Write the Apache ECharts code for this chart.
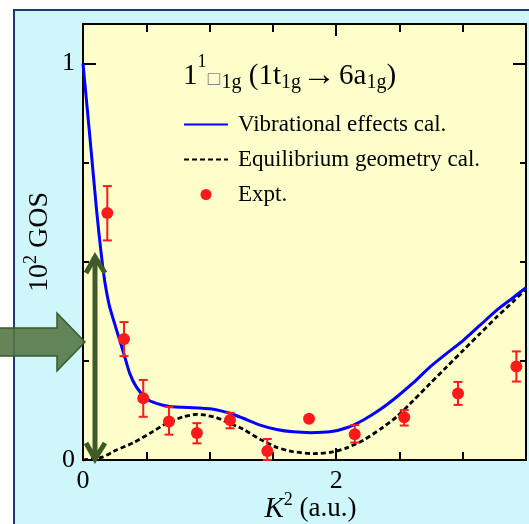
<!DOCTYPE html>
<html>
<head>
<meta charset="utf-8">
<script src="https://cdn.jsdelivr.net/npm/echarts@6/dist/echarts.min.js"></script>
<style>
html,body{margin:0;padding:0;background:#fff;}
#chart{width:529px;height:524px;}
</style>
</head>
<body>
<div id="chart"></div>
<script>
// Vibrational effects calculation (blue solid)  [K^2 (a.u.), 10^2 GOS]
const vibX = [0, 0.05, 0.105, 0.13, 0.155, 0.18, 0.21, 0.25, 0.29, 0.33, 0.37, 0.42, 0.50, 0.58, 0.685, 0.79, 0.92, 1.05, 1.16, 1.26, 1.40, 1.53, 1.66, 1.80, 1.95, 2.09, 2.215, 2.35, 2.478, 2.61, 2.742, 2.874, 3.005, 3.137, 3.269, 3.40, 3.5];
const vibY = [1.0, 0.83, 0.638, 0.56, 0.49, 0.435, 0.387, 0.344, 0.302, 0.260, 0.218, 0.185, 0.155, 0.143, 0.135, 0.133, 0.131, 0.127, 0.118, 0.106, 0.088, 0.077, 0.071, 0.069, 0.071, 0.082, 0.101, 0.128, 0.159, 0.195, 0.235, 0.269, 0.302, 0.340, 0.378, 0.410, 0.435];
// Equilibrium geometry calculation (black dashed)
const eqX = [0, 0.08, 0.158, 0.263, 0.395, 0.527, 0.658, 0.79, 0.895, 0.97, 1.053, 1.135, 1.264, 1.40, 1.53, 1.66, 1.82, 1.95, 2.08, 2.215, 2.35, 2.478, 2.61, 2.742, 2.874, 3.005, 3.137, 3.269, 3.40, 3.5];
const eqY = [0, 0.003, 0.008, 0.025, 0.043, 0.067, 0.092, 0.109, 0.115, 0.113, 0.107, 0.096, 0.078, 0.052, 0.032, 0.021, 0.016, 0.019, 0.030, 0.050, 0.078, 0.109, 0.150, 0.193, 0.235, 0.277, 0.319, 0.361, 0.400, 0.432];
// Experiment
const expX  = [0.192, 0.324, 0.476, 0.679, 0.900, 1.162, 1.456, 1.786, 2.147, 2.538, 2.963, 3.424];
const expY  = [0.623, 0.305, 0.156, 0.097, 0.068, 0.101, 0.023, 0.104, 0.065, 0.108, 0.168, 0.236];
const expLo = [0.554, 0.262, 0.109, 0.064, 0.042, 0.080, 0.000, null, 0.044, 0.087, 0.139, 0.198];
const expHi = [0.691, 0.348, 0.202, 0.134, 0.093, 0.119, 0.053, null, 0.088, 0.126, 0.197, 0.274];
// tick labels
const xTickLabels = [0, 2];
const yTickLabels = [0, 1];

const FONT = "'Liberation Serif', 'Times New Roman', serif";
const vibData = vibX.map((x, i) => [x, vibY[i]]);
const eqData = eqX.map((x, i) => [x, eqY[i]]);
const expData = expX.map((x, i) => [x, expY[i]]);
const errData = [];
expX.forEach((x, i) => { if (expLo[i] !== null) errData.push([x, expLo[i], expHi[i]]); });

const chart = echarts.init(document.getElementById('chart'), null, {renderer: 'canvas'});

function xAx(pos, interval, tickLen, labels, line) {
  return {
    type: 'value', min: 0, max: 3.5, interval: interval, position: pos,
    axisLine: {show: line, onZero: false, lineStyle: {color: '#000', width: 2}},
    axisTick: {show: true, inside: true, length: tickLen, lineStyle: {color: '#000', width: 2}},
    axisLabel: labels ? {show: true, margin: 8, color: '#000', fontSize: 26, fontFamily: FONT,
      formatter: v => xTickLabels.indexOf(Math.round(v * 1000) / 1000) >= 0 ? String(Math.round(v)) : ''} : {show: false},
    splitLine: {show: false}
  };
}
function yAx(pos, interval, tickLen, labels, line) {
  return {
    type: 'value', min: 0, max: 1.1, interval: interval, position: pos,
    axisLine: {show: line, onZero: false, lineStyle: {color: '#000', width: 2}},
    axisTick: {show: true, inside: true, length: tickLen, lineStyle: {color: '#000', width: 2}},
    axisLabel: labels ? {show: true, margin: 8, color: '#000', fontSize: 26, fontFamily: FONT, padding: [13, 0, 0, 0],
      formatter: v => yTickLabels.indexOf(Math.round(v * 1000) / 1000) >= 0 ? String(Math.round(v)) : ''} : {show: false},
    splitLine: {show: false}
  };
}

const xMain = xAx('bottom', 2, 12, true, true);
xMain.name = '{i|K}{s|2}{n| (a.u.)}';
xMain.nameLocation = 'middle';
xMain.nameGap = 31;
xMain.nameMoveOverlap = false;
xMain.nameTextStyle = {
  color: '#000', fontFamily: FONT, padding: [0, 0, 0, 12],
  rich: {
    i: {fontSize: 29, fontStyle: 'italic', fontFamily: FONT, color: '#000'},
    s: {fontSize: 18, fontFamily: FONT, color: '#000', padding: [0, 0, 18, 0]},
    n: {fontSize: 27, fontFamily: FONT, color: '#000'}
  }
};
const yMain = yAx('left', 1, 13, true, true);
yMain.name = '{n|10}{s|2}{n| GOS}';
yMain.nameLocation = 'middle';
yMain.nameGap = 25;
yMain.nameRotate = 90;
yMain.nameMoveOverlap = false;
yMain.nameTextStyle = {
  color: '#000', fontFamily: FONT,
  rich: {
    s: {fontSize: 18, fontFamily: FONT, color: '#000', padding: [0, 0, 18, 0]},
    n: {fontSize: 28, fontFamily: FONT, color: '#000'}
  }
};

const option = {
  backgroundColor: '#ffffff',
  animation: false,
  title: {
    left: 178, top: 48,
    text: '{b|1}{sp|1}{bx|□}{sb|1g}{b| (1t}{sb|1g}{ar|→}{b|6a}{sb|1g}{b|)}',
    textStyle: {
      fontFamily: FONT, color: '#000', fontWeight: 'normal',
      rich: {
        b: {fontSize: 29, fontFamily: FONT, color: '#000', fontWeight: 'normal'},
        sp: {fontSize: 18, fontFamily: FONT, color: '#000', fontWeight: 'normal', padding: [0, 0, 28, 0]},
        bx: {fontSize: 16, fontFamily: "'DejaVu Sans', sans-serif", color: '#888', fontWeight: 'normal', padding: [6, 0, 0, 0]},
        sb: {fontSize: 20, fontFamily: FONT, color: '#000', fontWeight: 'normal', padding: [13, 0, 0, 0]},
        ar: {fontSize: 34, fontFamily: FONT, color: '#000', fontWeight: 'normal', padding: [0, 3, 0, 1]}
      }
    }
  },
  legend: {
    left: 178, top: 108, orient: 'vertical',
    itemWidth: 44, itemHeight: 11, itemGap: 12,
    textStyle: {fontFamily: FONT, fontSize: 23, color: '#000', padding: [0, 0, 0, 5]},
    data: [
      {name: 'Vibrational effects cal.', itemStyle: {opacity: 0}},
      {name: 'Equilibrium geometry cal.', itemStyle: {opacity: 0}},
      {name: 'Expt.'}
    ]
  },
  grid: {left: 83, top: 24, right: 3, bottom: 64, show: true, backgroundColor: '#ffffcc', borderWidth: 0,
         containLabel: false, outerBoundsMode: 'none'},
  xAxis: [xMain, xAx('bottom', 0.5, 8, false, false), xAx('top', 2, 12, false, true), xAx('top', 0.5, 8, false, false)],
  yAxis: [yMain, yAx('left', 0.25, 6, false, false), yAx('right', 1, 13, false, true), yAx('right', 0.25, 6, false, false)],
  graphic: [
    {type: 'rect', z: -100, silent: true, shape: {x: 14, y: 10, width: 600, height: 600},
     style: {fill: '#cff7fb', stroke: '#1d3b7a', lineWidth: 2}},
    // vertical double arrow
    {type: 'line', z: 100, silent: true, shape: {x1: 95, y1: 258, x2: 95, y2: 458},
     style: {stroke: '#3d5a27', lineWidth: 5}},
    {type: 'polyline', z: 100, silent: true, shape: {points: [[86, 273], [95, 257], [105, 273]]},
     style: {stroke: '#3d5a27', lineWidth: 5, fill: null, lineJoin: 'miter'}},
    {type: 'polyline', z: 100, silent: true, shape: {points: [[86, 443], [95, 459], [105, 443]]},
     style: {stroke: '#3d5a27', lineWidth: 5, fill: null, lineJoin: 'miter'}},
    // block arrow
    {type: 'polygon', z: 100, silent: true,
     shape: {points: [[-2, 328], [57, 328], [57, 313], [85, 342], [57, 371], [57, 356], [-2, 356]]},
     style: {fill: 'rgba(84,120,70,0.9)', stroke: '#3a5a2a', lineWidth: 1.5}}
  ],
  series: [
    {name: 'Vibrational effects cal.', type: 'line', data: vibData, smooth: 0.2, symbol: 'none',
     xAxisIndex: 0, yAxisIndex: 0, lineStyle: {color: '#0000ff', width: 3}, itemStyle: {color: '#0000ff'}, z: 3},
    {name: 'Equilibrium geometry cal.', type: 'line', data: eqData, smooth: 0.2, symbol: 'none',
     xAxisIndex: 0, yAxisIndex: 0, lineStyle: {color: '#000', width: 2.8, type: [5, 3]}, itemStyle: {color: '#000'}, z: 2},
    {name: 'err', type: 'custom', xAxisIndex: 0, yAxisIndex: 0, data: errData, z: 4,
     renderItem: function (params, api) {
       const x = api.value(0);
       const p1 = api.coord([x, api.value(2)]);
       const p2 = api.coord([x, api.value(1)]);
       const w = 4.5;
       const st = {stroke: '#ff1a1a', lineWidth: 2};
       return {type: 'group', children: [
         {type: 'line', shape: {x1: p1[0], y1: p1[1], x2: p2[0], y2: p2[1]}, style: st},
         {type: 'line', shape: {x1: p1[0] - w, y1: p1[1], x2: p1[0] + w, y2: p1[1]}, style: st},
         {type: 'line', shape: {x1: p2[0] - w, y1: p2[1], x2: p2[0] + w, y2: p2[1]}, style: st}
       ]};
     }},
    {name: 'Expt.', type: 'scatter', data: expData, symbol: 'circle', symbolSize: 12,
     xAxisIndex: 0, yAxisIndex: 0, itemStyle: {color: '#ff1a1a', opacity: 1}, z: 5}
  ]
};
chart.setOption(option);
</script>
</body>
</html>
